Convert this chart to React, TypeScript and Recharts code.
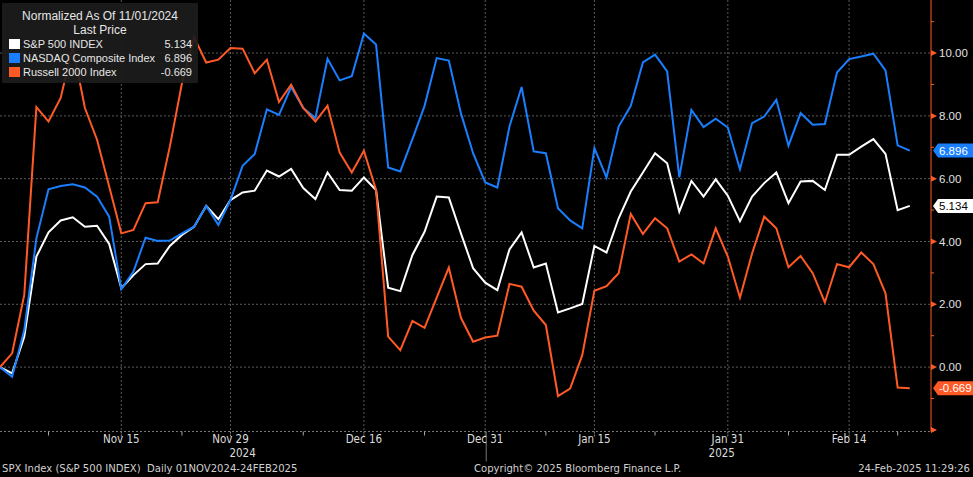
import React from 'react';
import { LineChart, Line, XAxis, YAxis, CartesianGrid } from 'recharts';

// ---- data ----
const tradingDays = [
  '2024-11-01', '2024-11-04', '2024-11-05', '2024-11-06', '2024-11-07', '2024-11-08',
  '2024-11-11', '2024-11-12', '2024-11-13', '2024-11-14', '2024-11-15',
  '2024-11-18', '2024-11-19', '2024-11-20', '2024-11-21', '2024-11-22',
  '2024-11-25', '2024-11-26', '2024-11-27', '2024-11-29',
  '2024-12-02', '2024-12-03', '2024-12-04', '2024-12-05', '2024-12-06',
  '2024-12-09', '2024-12-10', '2024-12-11', '2024-12-12', '2024-12-13',
  '2024-12-16', '2024-12-17', '2024-12-18', '2024-12-19', '2024-12-20',
  '2024-12-23', '2024-12-24', '2024-12-26', '2024-12-27', '2024-12-30', '2024-12-31',
  '2025-01-02', '2025-01-03', '2025-01-06', '2025-01-07', '2025-01-08', '2025-01-10',
  '2025-01-13', '2025-01-14', '2025-01-15', '2025-01-16', '2025-01-17',
  '2025-01-21', '2025-01-22', '2025-01-23', '2025-01-24',
  '2025-01-27', '2025-01-28', '2025-01-29', '2025-01-30', '2025-01-31',
  '2025-02-03', '2025-02-04', '2025-02-05', '2025-02-06', '2025-02-07',
  '2025-02-10', '2025-02-11', '2025-02-12', '2025-02-13', '2025-02-14',
  '2025-02-18', '2025-02-19', '2025-02-20', '2025-02-21', '2025-02-24',
];

const spx = [
  0, -0.2, 0.97, 3.52, 4.29, 4.67, 4.77, 4.47, 4.5, 3.92, 2.51,
  2.93, 3.28, 3.3, 3.86, 4.21, 4.47, 5.13, 4.71, 5.32,
  5.56, 5.62, 6.26, 6.07, 6.31, 5.7, 5.35, 6.2, 5.64, 5.62,
  6.04, 5.64, 2.53, 2.42, 3.57, 4.31, 5.43, 5.4, 4.26, 3.15, 2.69,
  2.45, 3.75, 4.29, 3.17, 3.3, 1.74, 1.87, 2.01, 3.86, 3.65, 4.74,
  5.59, 6.2, 6.81, 6.49, 4.95, 5.93, 5.43, 5.98, 5.46,
  4.65, 5.43, 5.86, 6.2, 5.22, 5.91, 5.93, 5.64, 6.76, 6.76,
  7.02, 7.26, 6.79, 5.0, 5.134,
];

const ccmp = [
  0, -0.31, 1.18, 4.1, 5.66, 5.77, 5.82, 5.72, 5.43, 4.79, 2.48,
  3.04, 4.12, 4.02, 4.03, 4.26, 4.47, 5.13, 4.53, 5.32,
  6.41, 6.79, 8.21, 8.03, 8.92, 8.25, 7.93, 9.82, 9.13, 9.26,
  10.62, 10.27, 6.36, 6.23, 7.26, 8.32, 9.84, 9.76, 8.08, 6.81, 5.88,
  5.72, 7.66, 8.92, 6.87, 6.81, 5.06, 4.67, 4.42, 6.97, 6.04, 7.66,
  8.32, 9.7, 9.95, 9.42, 6.04, 8.19, 7.64, 7.91, 7.63,
  6.3, 7.77, 7.98, 8.51, 7.05, 8.09, 7.72, 7.74, 9.38, 9.81,
  9.89, 9.98, 9.45, 7.06, 6.896,
];

const rty = [
  0, 0.44, 2.3, 8.28, 7.82, 8.57, 10.2, 8.25, 7.24, 5.75, 4.26,
  4.37, 5.22, 5.25, 7.02, 9.04, 10.5, 9.7, 9.79, 10.16,
  10.14, 9.36, 9.79, 8.44, 8.99, 8.25, 7.82, 8.32, 6.83, 6.2,
  6.89, 5.64, 0.97, 0.54, 1.47, 1.25, 2.21, 3.17, 1.57, 0.81, 0.94,
  1.0, 2.65, 2.56, 1.8, 1.34, -0.92, -0.68, 0.38, 2.43, 2.58, 2.99,
  4.88, 4.24, 4.74, 4.42, 3.36, 3.59, 3.3, 4.42, 3.52,
  2.21, 3.62, 4.79, 4.42, 3.18, 3.54, 2.99, 2.06, 3.28, 3.18,
  3.65, 3.28, 2.35, -0.65, -0.669,
];

const seriesNames = ['S&P 500 INDEX', 'NASDAQ Composite Index', 'Russell 2000 Index'];

const majorTicks = [10, 19, 30, 40, 49, 60, 70];
const majorLabels = ['Nov 15', 'Nov 29', 'Dec 16', 'Dec 31', 'Jan 15', 'Jan 31', 'Feb 14'];
const minorTicks = [4, 15, 25, 35, 45, 54, 65, 74];
const yearTicks = [20, 59.5];
const yearLabels = ['2024', '2025'];
const yearSplit = 40;

const yTicks = [-2, -1, 0, 1, 2, 3, 4, 5, 6, 7, 8, 9, 10, 11];
const gridY = [0, 2, 4, 6, 8, 10];

// ---- layout / style ----
const W = 973;
const H = 477;
const WHITE = '#ffffff';
const BLUE = '#1a7fff';
const ORANGE = '#ff5a26';
const SANS = "'Liberation Sans', Arial, sans-serif";
const NARROW = "'Liberation Sans Narrow', 'Arial Narrow', 'DejaVu Sans Condensed', sans-serif";

const data = tradingDays.map((d, i) => ({ i, date: d, spx: spx[i], ccmp: ccmp[i], rty: rty[i] }));
const last = tradingDays.length - 1;

const tags = [
  { value: ccmp[last], fill: BLUE, color: '#ffffff' },
  { value: spx[last], fill: '#ffffff', color: '#000000' },
  { value: rty[last], fill: ORANGE, color: '#ffffff' },
];

function XTick(props: any) {
  const { x, y, payload } = props;
  const v = payload.value;
  const mi = majorTicks.indexOf(v);
  if (mi >= 0) {
    return (
      <g>
        <line x1={x} x2={x} y1={y} y2={y + 6} stroke="#888" strokeDasharray="2 1" />
        {v === yearSplit && <line x1={x + 1} x2={x + 1} y1={y} y2={y + 30} stroke="#777" />}
        <text x={x} y={y + 11} textAnchor="middle" fill="#dcdcdc" fontSize={11.5} fontFamily={NARROW}>
          {majorLabels[mi]}
        </text>
      </g>
    );
  }
  const yi = yearTicks.indexOf(v);
  if (yi >= 0) {
    return (
      <text x={x} y={y + 25.5} textAnchor="middle" fill="#dcdcdc" fontSize={11.5} fontFamily={NARROW}>
        {yearLabels[yi]}
      </text>
    );
  }
  return <line x1={x} x2={x} y1={y} y2={y + 4} stroke="#aaa" />;
}

function YTick(props: any) {
  const { x, y, payload } = props;
  const v = payload.value;
  const tag = tags.find((t) => t.value === v);
  if (tag) {
    const x0 = x + 2;
    return (
      <g>
        <polygon
          points={`${x0},${y} ${x0 + 5},${y - 7} ${W},${y - 7} ${W},${y + 7} ${x0 + 5},${y + 7}`}
          fill={tag.fill}
        />
        <text x={x0 + 6} y={y + 4} fill={tag.color} fontSize={11.5} fontFamily={SANS}>
          {v.toFixed(3)}
        </text>
      </g>
    );
  }
  if (v % 2 === 0) {
    return (
      <g>
        <polygon points={`${x},${y - 3} ${x + 6},${y} ${x},${y + 3}`} fill={ORANGE} />
        {v >= 0 && (
          <text x={x + 8} y={y + 4} fill="#e0e0e0" fontSize={11.5} fontFamily={SANS}>
            {v.toFixed(2)}
          </text>
        )}
      </g>
    );
  }
  return <line x1={x} x2={x + 3} y1={y} y2={y} stroke={ORANGE} />;
}

const legendRows = [
  { name: seriesNames[0], color: WHITE, value: spx[last] },
  { name: seriesNames[1], color: BLUE, value: ccmp[last] },
  { name: seriesNames[2], color: ORANGE, value: rty[last] },
];

export default function App() {
  return (
    <div
      style={{
        position: 'absolute',
        left: 0,
        top: 0,
        width: W,
        height: H,
        background: '#000',
        overflow: 'hidden',
        fontFamily: SANS,
      }}
    >
      <LineChart width={W} height={H} data={data} margin={{ top: 0, right: 0, left: 0, bottom: 0 }}>
        <CartesianGrid
          stroke="#5a5a5a"
          strokeDasharray="2 2"
          horizontalValues={gridY}
          verticalValues={majorTicks}
        />
        <XAxis
          dataKey="i"
          type="number"
          domain={[0, 76.75]}
          allowDataOverflow
          ticks={[...minorTicks, ...majorTicks, ...yearTicks]}
          interval={0}
          height={45.5}
          tickSize={0}
          tickMargin={0}
          tickLine={false}
          axisLine={{ stroke: '#777', strokeDasharray: '2 2' }}
          tick={<XTick />}
        />
        <YAxis
          orientation="right"
          type="number"
          domain={[-2.05, 11.69]}
          allowDataOverflow
          ticks={[...yTicks, ...tags.map((t) => t.value)]}
          interval={0}
          width={42}
          tickSize={0}
          tickMargin={0}
          tickLine={false}
          axisLine={{ stroke: ORANGE }}
          tick={<YTick />}
        />
        <Line type="linear" dataKey="spx" stroke={WHITE} strokeWidth={2} dot={false} activeDot={false} isAnimationActive={false} />
        <Line type="linear" dataKey="ccmp" stroke={BLUE} strokeWidth={2} dot={false} activeDot={false} isAnimationActive={false} />
        <Line type="linear" dataKey="rty" stroke={ORANGE} strokeWidth={2} dot={false} activeDot={false} isAnimationActive={false} />
      </LineChart>

      <div
        style={{
          position: 'absolute',
          left: 2,
          top: 3,
          width: 196,
          height: 80,
          background: 'rgba(28,28,28,0.92)',
          color: '#e6e6e6',
          fontSize: 12,
          lineHeight: '14px',
        }}
      >
        <div style={{ textAlign: 'center', marginTop: 6 }}>Normalized As Of 11/01/2024</div>
        <div style={{ textAlign: 'center' }}>Last Price</div>
        {legendRows.map((r) => (
          <div key={r.name} style={{ position: 'relative', height: 14, fontSize: 11 }}>
            <span
              style={{ position: 'absolute', left: 7, top: 2, width: 11, height: 10, background: r.color }}
            />
            <span style={{ position: 'absolute', left: 21 }}>{r.name}</span>
            <span style={{ position: 'absolute', right: 6 }}>{r.value.toFixed(3)}</span>
          </div>
        ))}
      </div>

      <div
        style={{
          position: 'absolute',
          left: 0,
          top: 462,
          width: W,
          height: 14,
          color: '#d0d0d0',
          fontSize: 11.2,
          lineHeight: '14px',
          fontFamily: NARROW,
          whiteSpace: 'pre',
        }}
      >
        <span style={{ position: 'absolute', left: 2 }}>SPX Index (S&amp;P 500 INDEX)  Daily 01NOV2024-24FEB2025</span>
        <span style={{ position: 'absolute', left: 474 }}>Copyright© 2025 Bloomberg Finance L.P.</span>
        <span style={{ position: 'absolute', right: 3 }}>24-Feb-2025 11:29:26</span>
      </div>
    </div>
  );
}
